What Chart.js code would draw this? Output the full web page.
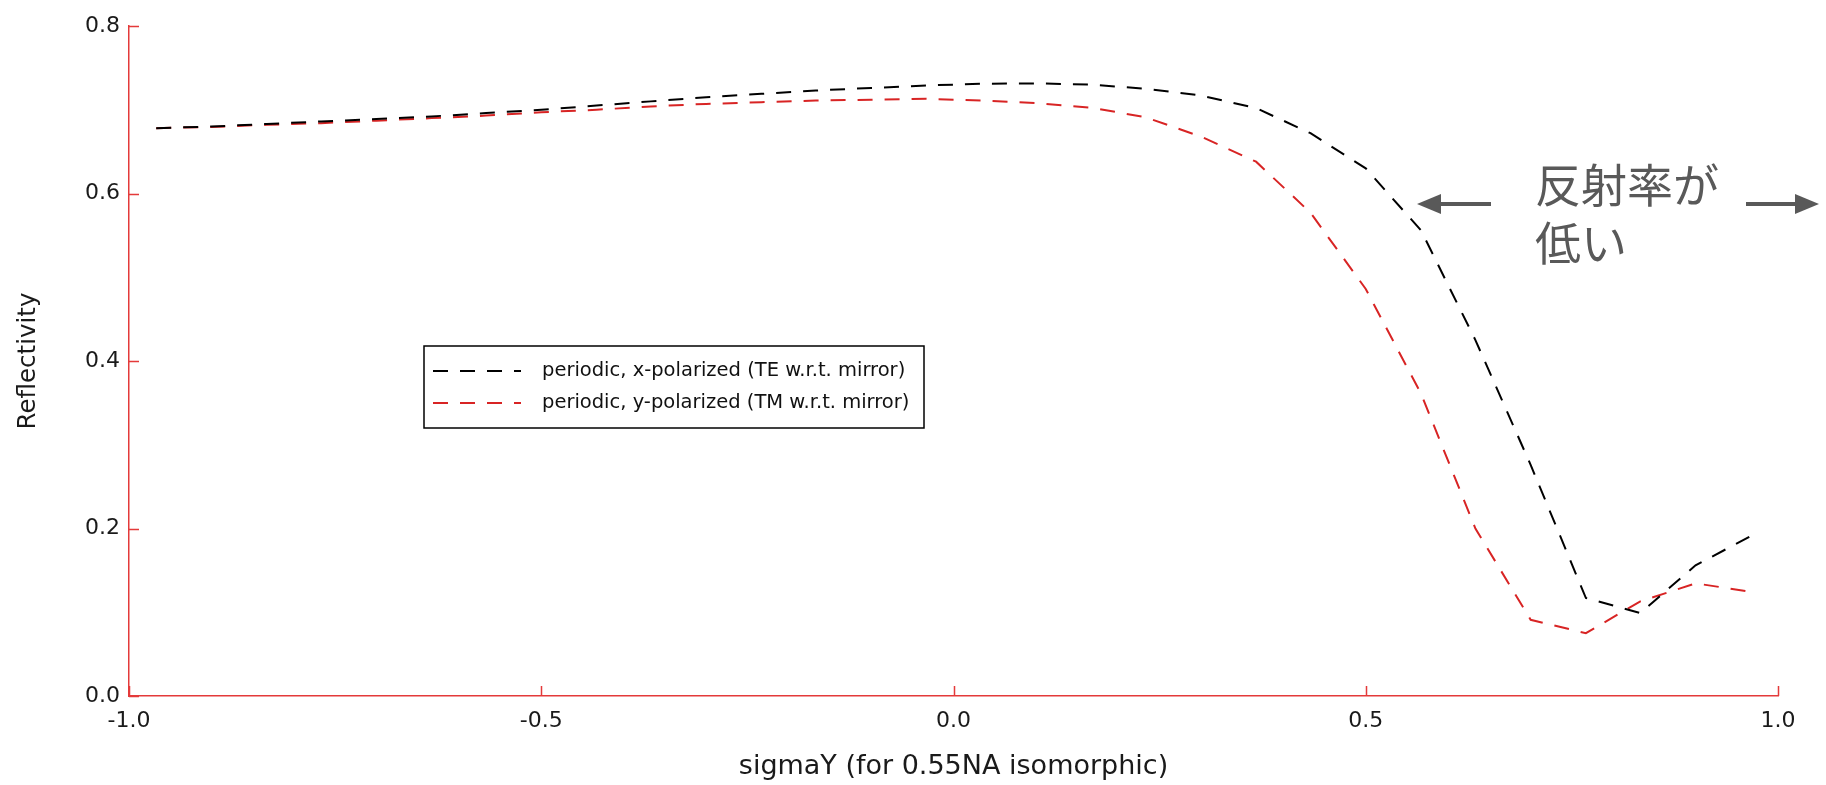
<!DOCTYPE html>
<html>
<head>
<meta charset="utf-8">
<script src="https://cdn.jsdelivr.net/npm/chart.js@4.4.1/dist/chart.umd.min.js"></script>
<style>
  html, body { margin: 0; padding: 0; background: #ffffff; }
  #wrap { width: 1826px; height: 785px; position: relative; }
</style>
</head>
<body>
<div id="wrap"><canvas id="chart" width="1826" height="785"></canvas></div>
<script>
// sigmaY sample positions (for 0.55NA isomorphic)
const sigmaY = [-0.967, -0.9, -0.833, -0.767, -0.7, -0.633, -0.567, -0.5, -0.433, -0.367,
                -0.3, -0.233, -0.167, -0.1, -0.033, 0.033, 0.1, 0.167, 0.233, 0.3,
                0.367, 0.433, 0.5, 0.567, 0.633, 0.7, 0.767, 0.833, 0.9, 0.967];

// periodic, x-polarized (TE w.r.t. mirror)
const reflTE = [0.678, 0.680, 0.683, 0.686, 0.689, 0.692, 0.696, 0.700, 0.705, 0.710,
                0.715, 0.719, 0.723, 0.726, 0.729, 0.731, 0.7315, 0.730, 0.725, 0.717,
                0.702, 0.672, 0.630, 0.556, 0.425, 0.276, 0.117, 0.099, 0.156, 0.191];

// periodic, y-polarized (TM w.r.t. mirror)
const reflTM = [0.678, 0.6795, 0.682, 0.684, 0.687, 0.690, 0.693, 0.697, 0.700, 0.704,
                0.707, 0.709, 0.711, 0.712, 0.713, 0.711, 0.708, 0.7025, 0.691, 0.668,
                0.638, 0.577, 0.486, 0.361, 0.200, 0.091, 0.075, 0.113, 0.1345, 0.1245];

const seriesLabels = ['periodic, x-polarized (TE w.r.t. mirror)',
                      'periodic, y-polarized (TM w.r.t. mirror)'];

const xTicks = [-1.0, -0.5, 0.0, 0.5, 1.0];
const yTicks = [0.0, 0.2, 0.4, 0.6, 0.8];

const noteLines = ['反射率が', '低い'];

const AXIS_RED = '#e43a3a';
const FONT = "'DejaVu Sans', 'Liberation Sans', sans-serif";

function toPoints(ys) {
  return sigmaY.map((x, i) => ({ x: x, y: ys[i] }));
}

// short tick marks pointing into the plot area
const innerTicks = {
  id: 'innerTicks',
  afterDatasetsDraw(chart) {
    const { ctx, chartArea, scales } = chart;
    ctx.save();
    ctx.strokeStyle = AXIS_RED;
    ctx.lineWidth = 1.5;
    ctx.beginPath();
    xTicks.forEach(v => {
      const px = Math.round(scales.x.getPixelForValue(v)) + 0.5;
      ctx.moveTo(px, chartArea.bottom);
      ctx.lineTo(px, chartArea.bottom - 10);
    });
    yTicks.forEach(v => {
      const py = Math.round(scales.y.getPixelForValue(v)) + 0.5;
      ctx.moveTo(chartArea.left, py);
      ctx.lineTo(chartArea.left + 10, py);
    });
    ctx.stroke();
    ctx.restore();
  }
};

// boxed legend inside the plot
const boxLegend = {
  id: 'boxLegend',
  afterDraw(chart) {
    const { ctx } = chart;
    const bx = 424, by = 346, bw = 500, bh = 82;
    ctx.save();
    ctx.fillStyle = '#ffffff';
    ctx.fillRect(bx, by, bw, bh);
    ctx.strokeStyle = '#000000';
    ctx.lineWidth = 1.5;
    ctx.strokeRect(bx, by, bw, bh);
    chart.data.datasets.forEach((ds, i) => {
      const y = 371 + i * 32;
      ctx.strokeStyle = ds.borderColor;
      ctx.lineWidth = ds.borderWidth;
      ctx.setLineDash(ds.borderDash);
      ctx.beginPath();
      ctx.moveTo(433, y);
      ctx.lineTo(521, y);
      ctx.stroke();
      ctx.setLineDash([]);
      ctx.fillStyle = '#111111';
      ctx.font = '19.5px ' + FONT;
      ctx.textAlign = 'left';
      ctx.textBaseline = 'middle';
      ctx.fillText(ds.label, 542, y);
    });
    ctx.restore();
  }
};

// note with arrows on the right
const noteArrows = {
  id: 'noteArrows',
  afterDraw(chart) {
    const { ctx } = chart;
    const grey = '#595959';
    ctx.save();
    ctx.fillStyle = grey;
    ctx.font = "46px 'Noto Sans CJK JP', sans-serif";
    ctx.textAlign = 'left';
    ctx.textBaseline = 'middle';
    ctx.fillText(noteLines[0], 1535, 185);
    ctx.fillText(noteLines[1], 1535, 243);

    const ay = 204;
    // left arrow
    ctx.fillRect(1438, ay - 2, 53, 4);
    ctx.beginPath();
    ctx.moveTo(1417, ay);
    ctx.lineTo(1441, ay - 10);
    ctx.lineTo(1441, ay + 10);
    ctx.closePath();
    ctx.fill();
    // right arrow
    ctx.fillRect(1746, ay - 2, 50, 4);
    ctx.beginPath();
    ctx.moveTo(1819, ay);
    ctx.lineTo(1795, ay - 10);
    ctx.lineTo(1795, ay + 10);
    ctx.closePath();
    ctx.fill();
    ctx.restore();
  }
};

const tickFont = { family: FONT, size: 22 };

new Chart(document.getElementById('chart'), {
  type: 'line',
  data: {
    datasets: [
      {
        label: seriesLabels[0],
        data: toPoints(reflTE),
        borderColor: '#000000',
        borderWidth: 2,
        borderDash: [15, 12],
        pointRadius: 0,
        tension: 0,
        fill: false
      },
      {
        label: seriesLabels[1],
        data: toPoints(reflTM),
        borderColor: '#d82424',
        borderWidth: 2,
        borderDash: [15, 12],
        pointRadius: 0,
        tension: 0,
        fill: false
      }
    ]
  },
  options: {
    responsive: false,
    animation: false,
    devicePixelRatio: 1,
    layout: { padding: { top: 26, right: 48, left: 0, bottom: 0 } },
    plugins: {
      legend: { display: false },
      tooltip: { enabled: false }
    },
    scales: {
      x: {
        type: 'linear',
        min: -1,
        max: 1,
        afterFit(scale) { scale.height = 89; },
        afterBuildTicks(scale) { scale.ticks = xTicks.map(v => ({ value: v })); },
        ticks: {
          font: tickFont,
          color: '#1a1a1a',
          padding: 12,
          maxRotation: 0,
          callback: v => v.toFixed(1)
        },
        grid: { drawOnChartArea: false, drawTicks: false },
        border: { display: true, color: AXIS_RED, width: 1.5 },
        title: {
          display: true,
          text: 'sigmaY (for 0.55NA isomorphic)',
          font: { family: FONT, size: 27 },
          color: '#1a1a1a',
          padding: { top: 0, bottom: 2 }
        }
      },
      y: {
        type: 'linear',
        min: 0,
        max: 0.8,
        afterFit(scale) { scale.width = 129; },
        afterBuildTicks(scale) { scale.ticks = yTicks.map(v => ({ value: v })); },
        ticks: {
          font: tickFont,
          color: '#1a1a1a',
          padding: 9,
          callback: v => v.toFixed(1)
        },
        grid: { drawOnChartArea: false, drawTicks: false },
        border: { display: true, color: AXIS_RED, width: 1.5 },
        title: {
          display: true,
          text: 'Reflectivity',
          font: { family: FONT, size: 24.5 },
          color: '#1a1a1a',
          padding: { top: 14, bottom: 0 }
        }
      }
    }
  },
  plugins: [innerTicks, boxLegend, noteArrows]
});
</script>
</body>
</html>
